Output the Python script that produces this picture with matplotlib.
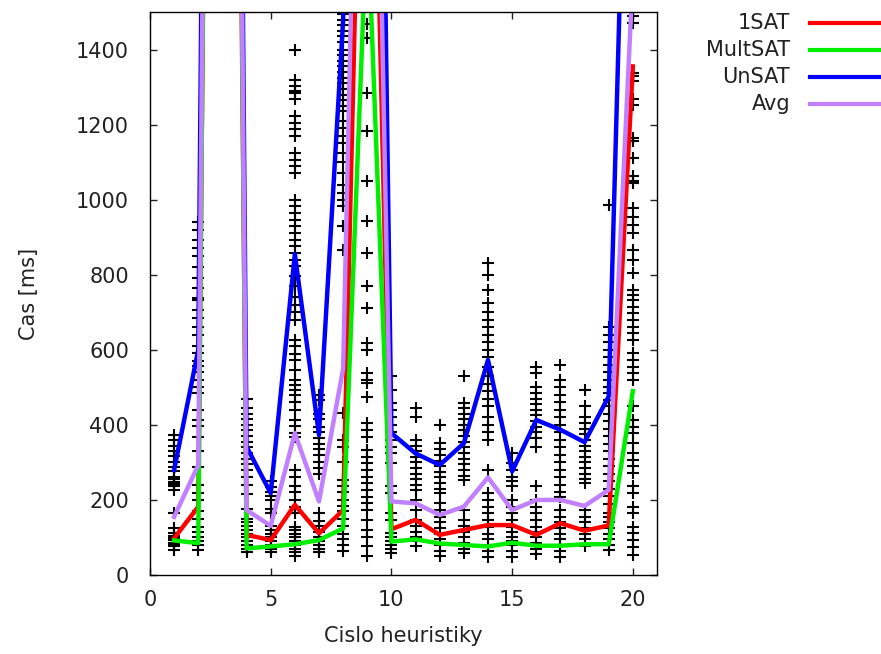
import matplotlib
matplotlib.use("Agg")
import matplotlib.pyplot as plt
from matplotlib.lines import Line2D

# Cisla heuristik (x) a priemerne casy pre jednotlive typy instancii
heuristiky = list(range(1, 21))
sat1 = [98, 182, 7000, 107, 93, 187, 111, 173, 2900, 122,
        147, 107, 120, 133, 133, 107, 138, 118, 132, 1355]
multsat = [92, 85, 7500, 71, 76, 82, 93, 124, 1770, 89,
           95, 84, 80, 76, 86, 78, 78, 82, 82, 490]
unsat = [280, 600, 8000, 342, 218, 855, 373, 1480, 5000, 378,
         324, 293, 351, 573, 276, 413, 387, 354, 476, 2800]
avg = [155, 293, 7500, 173, 131, 378, 196, 550, 3500, 196,
       191, 160, 182, 260, 173, 200, 200, 184, 227, 1600]

# Namerane casy jednotlivych behov (heuristika 3 je mimo grafu)
merania_x = [1, 2, 4, 5, 6, 7, 8, 9, 10, 11, 12, 13, 14, 15, 16, 17, 18, 19, 20]
merania = [
    [373, 360, 345, 330, 316, 302, 289, 276, 262, 255, 248, 242, 236, 227, 164, 124,
     111, 105, 98, 92, 85, 80, 76, 67],
    [940, 920, 893, 870, 849, 820, 790, 764, 738, 733, 707, 684, 662, 640, 609, 591,
     570, 556, 540, 520, 502, 484, 440, 413, 396, 369, 330, 289, 240, 218, 200, 170,
     150, 129, 115, 100, 90, 80, 67],
    [470, 445, 430, 415, 400, 385, 370, 355, 340, 325, 310, 295, 280, 260, 240, 215,
     175, 150, 140, 130, 120, 110, 100, 90, 80, 70, 60],
    [250, 235, 222, 210, 200, 175, 165, 130, 120, 110, 100, 90, 80, 70, 60],
    [1400, 1320, 1302, 1290, 1284, 1267, 1222, 1204, 1187, 1169, 1124, 1107, 1089, 1071,
     1000, 982, 964, 947, 929, 911, 893, 876, 858, 840, 822, 796, 769, 742, 720, 700,
     680, 627, 610, 590, 573, 547, 520, 505, 493, 480, 460, 440, 413, 396, 378, 369,
     280, 262, 236, 220, 200, 182, 164, 129, 120, 110, 100, 90, 80, 70, 60, 50],
    [480, 465, 430, 415, 395, 380, 365, 350, 335, 320, 300, 285, 270, 165, 145, 130,
     115, 100, 90, 80, 70, 60],
    [1495, 1480, 1465, 1450, 1435, 1420, 1400, 1385, 1370, 1355, 1340, 1325, 1310, 1295,
     1280, 1265, 1250, 1235, 1210, 1190, 1170, 1150, 1124, 1100, 1071, 1040, 1018, 1000,
     982, 929, 867, 431, 360, 342, 300, 253, 236, 220, 200, 185, 170, 150, 130, 110,
     95, 80, 65],
    [1467, 1431, 1284, 1182, 1049, 942, 858, 769, 711, 618, 600, 538, 520, 511, 475,
     404, 385, 369, 333, 315, 298, 280, 262, 245, 227, 209, 191, 173, 147, 120, 100,
     76, 50],
    [529, 493, 458, 440, 420, 400, 380, 360, 340, 324, 298, 236, 218, 164, 147, 111,
     100, 90, 80, 70, 58],
    [444, 422, 360, 345, 330, 315, 300, 285, 270, 255, 240, 227, 200, 173, 147, 130,
     115, 100, 90, 76],
    [400, 351, 335, 320, 305, 290, 275, 260, 245, 230, 218, 191, 173, 155, 140, 125,
     110, 95, 80, 65, 50],
    [529, 458, 445, 430, 415, 400, 385, 370, 355, 340, 325, 310, 295, 280, 265, 253,
     173, 147, 130, 115, 100, 85, 70, 58],
    [830, 800, 760, 724, 700, 680, 660, 640, 620, 600, 582, 555, 530, 510, 490, 470,
     449, 422, 400, 380, 360, 280, 218, 200, 180, 165, 147, 129, 110, 95, 80, 65, 49],
    [324, 298, 280, 262, 250, 236, 200, 180, 165, 147, 129, 115, 100, 90, 80, 65, 49],
    [555, 538, 502, 485, 470, 455, 440, 425, 410, 395, 380, 365, 342, 236, 200, 182,
     165, 147, 129, 115, 100, 85, 70, 55],
    [560, 520, 500, 480, 460, 440, 420, 400, 380, 360, 340, 320, 300, 280, 260, 240,
     220, 209, 173, 155, 140, 125, 110, 95, 80, 65, 49],
    [493, 449, 422, 405, 390, 375, 360, 345, 330, 315, 300, 285, 270, 255, 244, 173,
     155, 140, 125, 110, 95, 76],
    [987, 662, 640, 620, 600, 580, 560, 540, 520, 500, 484, 465, 450, 430, 410, 390,
     370, 350, 330, 310, 290, 270, 250, 230, 210, 190, 164, 155, 140, 125, 110, 95,
     80, 67],
    [1489, 1471, 1338, 1329, 1316, 1267, 1253, 1164, 1156, 1111, 1062, 1049, 1044, 977,
     955, 933, 911, 866, 840, 804, 760, 745, 733, 715, 698, 680, 662, 644, 626, 591,
     573, 555, 537, 520, 449, 413, 395, 378, 351, 324, 307, 290, 271, 236, 218, 182,
     164, 129, 111, 93, 75, 53],
]

nazvy = ["1SAT", "MultSAT", "UnSAT", "Avg"]
farby = ["#ff0000", "#00ee00", "#0000ff", "#c080ff"]

plt.rcParams['font.family'] = ['DejaVu Sans']

fig = plt.figure(figsize=(8.81, 6.54), dpi=100)
ax = fig.add_axes([150 / 881, 79 / 654, 507 / 881, 563 / 654])

# Body merani
for x, hodnoty in zip(merania_x, merania):
    ax.plot([x] * len(hodnoty), hodnoty, linestyle='none', marker='+',
            color='black', markersize=8, markeredgewidth=1.5)

# Krivky priemerov
for serie, farba in zip([sat1, multsat, unsat, avg], farby):
    ax.plot(heuristiky, serie, color=farba, linewidth=3.2)

ax.set_xlim(0, 21)
ax.set_ylim(0, 1500)
ax.set_xticks([0, 5, 10, 15, 20])
ax.set_yticks(range(0, 1401, 200))
ax.tick_params(direction='in', top=True, right=True, length=5, width=1,
               labelsize=15, colors='#222222')
ax.tick_params(axis='y', pad=15)
ax.tick_params(axis='x', pad=11)
for s in ax.spines.values():
    s.set_linewidth(1.0)
ax.set_xlabel("Cislo heuristiky", fontsize=15, color='#222222', labelpad=11)
ax.set_ylabel("Cas [ms]", fontsize=15, color='#222222', labelpad=27)

# Legenda vpravo hore (text zarovnany doprava, ciara za nim)
for i, (nazov, farba) in enumerate(zip(nazvy, farby)):
    y = 1 - (23 + 27 * i) / 654
    fig.text(790 / 881, y, nazov, ha='right', va='center', fontsize=15, color='#222222')
    fig.add_artist(Line2D([810 / 881, 1.0], [y, y], color=farba, linewidth=3,
                          transform=fig.transFigure))

fig.savefig("out.png", dpi=100)
